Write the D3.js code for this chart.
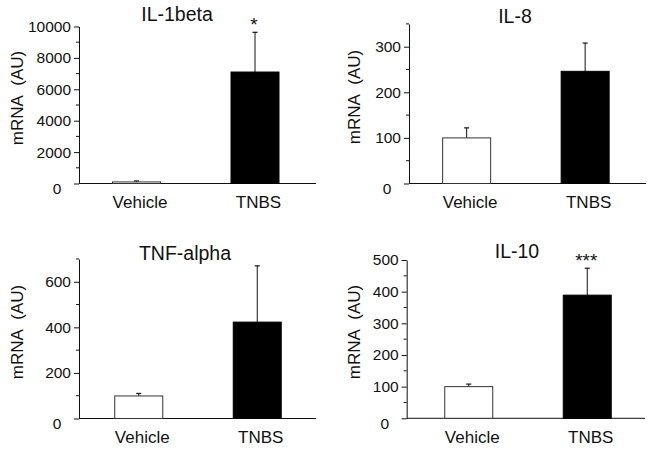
<!DOCTYPE html>
<html>
<head>
<meta charset="utf-8">
<script src="https://cdn.jsdelivr.net/npm/d3@7/dist/d3.min.js"></script>
<style>
  html, body { margin: 0; padding: 0; background: #fff; }
  svg { display: block; font-family: "Liberation Sans", Arial, sans-serif; }
</style>
</head>
<body>
<svg id="chart" width="653" height="450"></svg>
<script>
// ---- data ----
const categories = ["Vehicle", "TNBS"];
const panelTitles = ["IL-1beta", "IL-8", "TNF-alpha", "IL-10"];
const il1betaMeans = [100, 7100];
const il1betaErrors = [60, 2530];
const il8Means = [100, 246];
const il8Errors = [22, 62];
const tnfAlphaMeans = [99, 423];
const tnfAlphaErrors = [11, 247];
const il10Means = [100, 389];
const il10Errors = [8, 85];
const yMaxValues = [10000, 350, 700, 500];
const majorTickSteps = [2000, 100, 200, 100];
const minorTickSteps = [1000, 50, 100, 50];
const significance = ["*", "", "", "***"];
const yAxisTitle = "mRNA\u00a0\u00a0(AU)";

const seriesMeans = [il1betaMeans, il8Means, tnfAlphaMeans, il10Means];
const seriesErrors = [il1betaErrors, il8Errors, tnfAlphaErrors, il10Errors];

// ---- layout (pixel geometry per panel) ----
const layouts = [
  { ax: 79,    right: 316, top: 26.5, base: 183.5, bandX: 77.25, titleX: 177, titleY: 21,  labelX: 22.5, labelY: 98 },
  { ax: 409,   right: 646, top: 23.9, base: 183.5, bandX: 407.4, titleX: 515, titleY: 22.5, labelX: 359.5, labelY: 97 },
  { ax: 79,    right: 316, top: 259,  base: 418.5, bandX: 79.5,  titleX: 185, titleY: 260, labelX: 22.5, labelY: 332 },
  { ax: 406.7, right: 645, top: 260,  base: 418.3, bandX: 409.5, titleX: 517, titleY: 257.5, labelX: 359.5, labelY: 332 }
];
const barWidth = 48;
const ink = "#111";

const svg = d3.select("#chart");

layouts.forEach((L, i) => {
  const g = svg.append("g");
  const yMax = yMaxValues[i];
  const y = d3.scaleLinear().domain([0, yMax]).range([L.base, L.top]);
  const x = d3.scalePoint().domain(categories).range([L.bandX, L.bandX + 237]).padding(0.5);

  const majors = d3.range(0, yMax + 1e-9, majorTickSteps[i]);
  const minors = d3.range(0, yMax + 1e-9, minorTickSteps[i]).filter(v => !majors.includes(v));

  // y axis (major ticks)
  const yAxis = d3.axisLeft(y).tickValues(majors).tickSize(5).tickSizeOuter(0).tickPadding(3)
    .tickFormat(d3.format("d"));
  const ya = g.append("g").attr("transform", `translate(${L.ax},0)`).call(yAxis);
  ya.select(".domain").attr("stroke", ink).attr("stroke-width", 1);
  ya.selectAll(".tick line").attr("stroke", ink);
  ya.selectAll(".tick text")
    .attr("fill", ink)
    .style("font-size", "15.5px")
    .style("font-family", "Liberation Sans, Arial, sans-serif");
  // the zero label sits below-left of the origin
  ya.selectAll(".tick text").filter(d => d === 0)
    .attr("text-anchor", "middle")
    .attr("x", -22)
    .attr("dy", "0.32em")
    .attr("transform", "translate(0,5)");

  // minor ticks
  g.append("g").selectAll("line").data(minors).join("line")
    .attr("x1", L.ax - 3).attr("x2", L.ax)
    .attr("y1", d => y(d)).attr("y2", d => y(d))
    .attr("stroke", ink).attr("stroke-width", 1);

  // x axis baseline
  g.append("line")
    .attr("x1", L.ax).attr("x2", L.right)
    .attr("y1", y(0)).attr("y2", y(0))
    .attr("stroke", ink).attr("stroke-width", 1);

  // category labels
  const xAxis = d3.axisBottom(x).tickSize(0).tickSizeOuter(0);
  const xa = g.append("g").attr("transform", `translate(3,${y(0)})`).call(xAxis);
  xa.select(".domain").remove();
  xa.selectAll(".tick text")
    .attr("y", 24.5).attr("dy", 0)
    .attr("fill", ink)
    .style("font-size", "17px")
    .style("font-family", "Liberation Sans, Arial, sans-serif");

  const means = seriesMeans[i];
  const errs = seriesErrors[i];
  const data = categories.map((c, k) => ({ c, m: means[k], e: errs[k], k }));

  // error bars (upward only)
  const eb = g.append("g").selectAll("g").data(data).join("g");
  eb.append("line")
    .attr("x1", d => x(d.c)).attr("x2", d => x(d.c))
    .attr("y1", d => y(d.m)).attr("y2", d => y(d.m + d.e))
    .attr("stroke", ink).attr("stroke-width", 1);
  eb.append("line")
    .attr("x1", d => x(d.c) - 2.5).attr("x2", d => x(d.c) + 2.5)
    .attr("y1", d => y(d.m + d.e)).attr("y2", d => y(d.m + d.e))
    .attr("stroke", ink).attr("stroke-width", 1.2);

  // bars
  g.append("g").selectAll("rect").data(data).join("rect")
    .attr("x", d => x(d.c) - barWidth / 2)
    .attr("width", barWidth)
    .attr("y", d => y(d.m))
    .attr("height", d => y(0) - y(d.m))
    .attr("fill", d => d.k === 0 ? "#fff" : "#000")
    .attr("stroke", d => d.k === 0 ? "#333" : "#000")
    .attr("stroke-width", 1);

  // significance marks
  if (significance[i]) {
    const d = data[1];
    g.append("text")
      .attr("x", x(d.c) - 1)
      .attr("y", y(d.m + d.e) - 1)
      .attr("text-anchor", "middle")
      .attr("fill", ink)
      .style("font-size", "19px")
      .text(significance[i]);
  }

  // panel title
  g.append("text")
    .attr("x", L.titleX).attr("y", L.titleY)
    .attr("text-anchor", "middle")
    .attr("fill", ink)
    .style("font-size", "19.5px")
    .text(panelTitles[i]);

  // y-axis title
  g.append("text")
    .attr("transform", `translate(${L.labelX},${L.labelY}) rotate(-90)`)
    .attr("text-anchor", "middle")
    .attr("fill", ink)
    .style("font-size", "17px")
    .text(yAxisTitle);
});
</script>
</body>
</html>
